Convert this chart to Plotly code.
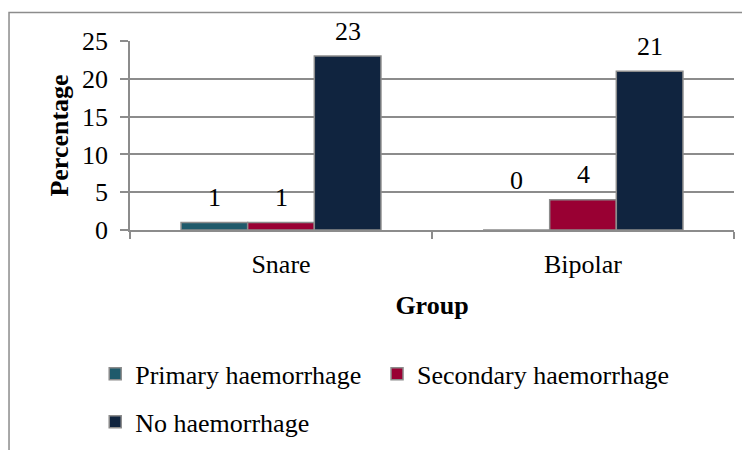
import plotly.graph_objects as go

groups = ["Snare", "Bipolar"]
series_names = ["Primary haemorrhage", "Secondary haemorrhage", "No haemorrhage"]
primary = [1, 0]
secondary = [1, 4]
no_haem = [23, 21]
colors = ["#1F5A6B", "#990033", "#10243F"]

FONT = "Liberation Serif, Times New Roman, serif"
GRAY = "#8c8c8c"

fig = go.Figure()
all_series = [primary, secondary, no_haem]
legends = ["legend", "legend2", "legend3"]
for name, vals, col, lg in zip(series_names, all_series, colors, legends):
    fig.add_trace(go.Bar(
        x=groups, y=vals, name=name, legend=lg,
        marker=dict(color=col, line=dict(color=GRAY, width=1.5)),
    ))

# data labels
offsets = [-67, 0, 67]
for vals, dx in zip(all_series, offsets):
    for g, v in zip(groups, vals):
        fig.add_annotation(
            x=g, y=v, xref="x", yref="y", text=str(v), showarrow=False,
            xshift=dx, yshift=25 if v > 0 else 50, yanchor="middle",
            font=dict(family=FONT, size=26, color="black"),
        )

# outer chart frame
fig.add_shape(type="rect", xref="paper", yref="paper",
              x0=-0.2003, x1=1.1, y0=-1.3, y1=1.1503,
              line=dict(color=GRAY, width=1.5), fillcolor="rgba(0,0,0,0)")

legend_font = dict(family=FONT, size=26, color="black")
def leg(x, y):
    return dict(orientation="h", x=x, xanchor="left", y=y, yanchor="middle",
                font=legend_font, bgcolor="rgba(0,0,0,0)", itemwidth=30)

fig.update_layout(
    width=750, height=450,
    margin=dict(l=122, r=24, t=33, b=224),
    paper_bgcolor="white", plot_bgcolor="white",
    barmode="group", bargap=0.338, bargroupgap=0,
    font=dict(family=FONT, size=26, color="black"),
    showlegend=True,
    legend=leg(-0.0576, -0.7617),
    legend2=leg(0.409, -0.7617),
    legend3=leg(-0.0576, -1.0156),
    xaxis=dict(
        showline=True, linecolor=GRAY, linewidth=1.5,
        ticks="outside", tickson="boundaries", ticklen=7, tickcolor=GRAY, tickwidth=1.5,
        ticklabelstandoff=10,
        tickfont=dict(family=FONT, size=26, color="black"),
        title=dict(text="<b>Group</b>", font=dict(family=FONT, size=26, color="black"), standoff=18),
        showgrid=False,
    ),
    yaxis=dict(
        range=[0, 25], dtick=5, tick0=0,
        showline=True, linecolor=GRAY, linewidth=1.5,
        ticks="outside", ticklen=8, tickcolor=GRAY, tickwidth=1.5,
        ticklabelstandoff=7,
        showgrid=True, gridcolor=GRAY, gridwidth=1.5, zeroline=False,
        tickfont=dict(family=FONT, size=26, color="black"),
        title=dict(text="<b>Percentage</b>", font=dict(family=FONT, size=26, color="black"), standoff=6),
    ),
)

fig.write_html("out.html")
